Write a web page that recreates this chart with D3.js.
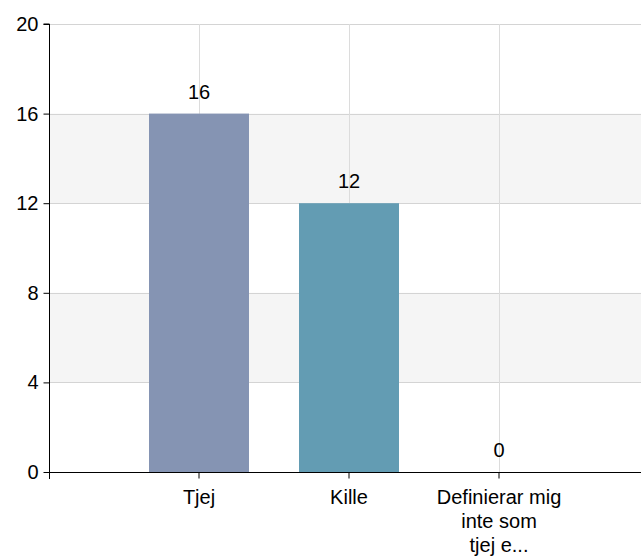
<!DOCTYPE html>
<html>
<head>
<meta charset="utf-8">
<script src="https://cdn.jsdelivr.net/npm/d3@7"></script>
<style>
  body { margin: 0; background: #fff; }
  text { font-family: Arial, "Liberation Sans", sans-serif; fill: #000; }
</style>
</head>
<body>
<div id="chart"></div>
<script>
// data
var categories = ['Tjej', 'Kille', 'Definierar mig inte som tjej e...'];
var categoryLines = [['Tjej'], ['Kille'], ['Definierar mig', 'inte som', 'tjej e...']];
var counts = [16, 12, 0];
var barColors = ['#8594b3', '#639cb3', '#8bb08b'];
var yTicks = [0, 4, 8, 12, 16, 20];

var width = 641, height = 558;
var margin = { top: 24, left: 49, bottom: 86 };
var plotBottom = height - margin.bottom;

var svg = d3.select('#chart')
  .append('svg')
  .attr('width', width)
  .attr('height', height);

var x = d3.scaleBand()
  .domain(categories)
  .range([margin.left, margin.left + 600])
  .paddingInner(1 / 3)
  .paddingOuter(2 / 3);

var y = d3.scaleLinear()
  .domain([0, 20])
  .range([plotBottom, margin.top]);

// alternating bands
var bands = [[4, 8], [12, 16]];
svg.selectAll('.band')
  .data(bands)
  .enter().append('rect')
  .attr('class', 'band')
  .attr('x', margin.left)
  .attr('y', function(d) { return y(d[1]); })
  .attr('width', width - margin.left)
  .attr('height', function(d) { return y(d[0]) - y(d[1]); })
  .style('fill', '#f5f5f5');

// grid
svg.selectAll('.hgrid')
  .data(yTicks)
  .enter().append('line')
  .attr('class', 'hgrid')
  .attr('x1', margin.left)
  .attr('x2', width)
  .attr('y1', function(d) { return Math.round(y(d)) + 0.5; })
  .attr('y2', function(d) { return Math.round(y(d)) + 0.5; })
  .style('stroke', '#d4d4d4');

svg.selectAll('.vgrid')
  .data(categories)
  .enter().append('line')
  .attr('class', 'vgrid')
  .attr('x1', function(d) { return Math.round(x(d) + x.bandwidth() / 2) + 0.5; })
  .attr('x2', function(d) { return Math.round(x(d) + x.bandwidth() / 2) + 0.5; })
  .attr('y1', margin.top)
  .attr('y2', plotBottom)
  .style('stroke', '#dcdcdc');

// bars
svg.selectAll('.bar')
  .data(counts)
  .enter().append('rect')
  .attr('class', 'bar')
  .attr('x', function(d, i) { return x(categories[i]); })
  .attr('y', function(d) { return y(d); })
  .attr('width', x.bandwidth())
  .attr('height', function(d) { return y(0) - y(d); })
  .style('fill', function(d, i) { return barColors[i]; });

// value labels
svg.selectAll('.value')
  .data(counts)
  .enter().append('text')
  .attr('class', 'value')
  .attr('x', function(d, i) { return x(categories[i]) + x.bandwidth() / 2; })
  .attr('y', function(d) { return y(d) - 15; })
  .attr('text-anchor', 'middle')
  .style('font-size', '20px')
  .text(function(d) { return d; });

// y axis
var yAxis = d3.axisLeft(y)
  .tickValues(yTicks)
  .tickSize(6)
  .tickPadding(5);

var gy = svg.append('g')
  .attr('transform', 'translate(' + (margin.left + 0.5) + ',0)')
  .call(yAxis);
gy.select('.domain').attr('d', 'M-6,' + margin.top + 'H0V' + (plotBottom + 7)).style('stroke', '#000');
gy.selectAll('.tick line').style('stroke', '#000');
gy.selectAll('.tick text').style('font-size', '20px').attr('font-family', null);

// x axis
var xAxis = d3.axisBottom(x)
  .tickSize(6)
  .tickFormat('');

var gx = svg.append('g')
  .attr('transform', 'translate(0,' + (plotBottom + 0.5) + ')')
  .call(xAxis);
gx.select('.domain').attr('d', 'M' + margin.left + ',0H' + width).style('stroke', '#000');
gx.selectAll('.tick line').style('stroke', '#000');

gx.selectAll('.tick').each(function(d, i) {
  var t = d3.select(this).append('text')
    .attr('text-anchor', 'middle')
    .attr('y', 31)
    .style('font-size', '20px');
  categoryLines[i].forEach(function(line, j) {
    t.append('tspan')
      .attr('x', 0)
      .attr('dy', j === 0 ? 0 : 24)
      .text(line);
  });
});
</script>
</body>
</html>
